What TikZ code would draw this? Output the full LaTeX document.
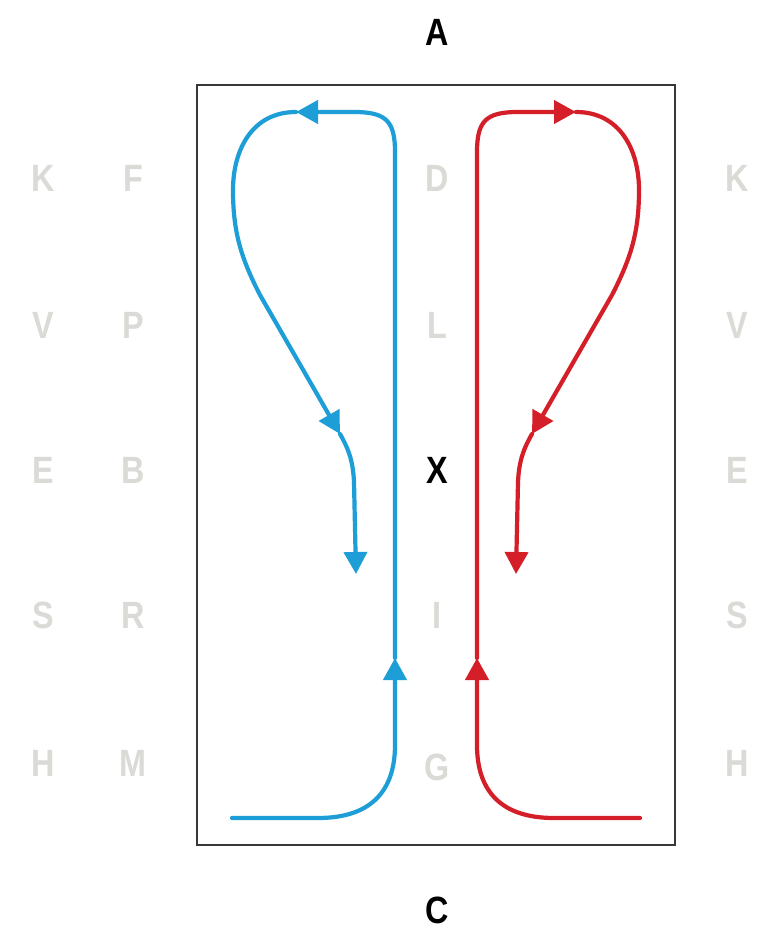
\documentclass[tikz,border=0pt]{standalone}
\usepackage{fontspec}
\setmainfont{Liberation Sans}
\newfontfamily\lblfont[FakeStretch=0.85]{Liberation Sans}
\usetikzlibrary{arrows.meta}
\definecolor{flowblue}{RGB}{30,158,214}
\definecolor{flowred}{RGB}{212,30,40}
\definecolor{ghost}{RGB}{218,218,214}
\definecolor{frame}{RGB}{55,55,55}
\begin{document}
\begin{tikzpicture}[x=1pt,y=-1pt,
  ghostlbl/.style={text=ghost,font=\lblfont\bfseries\fontsize{38}{38}\selectfont,inner sep=0pt,anchor=center},
  mainlbl/.style={text=black,font=\lblfont\bfseries\fontsize{38}{38}\selectfont,inner sep=0pt,anchor=center},
  flow/.style={line width=4.2pt,line cap=round,line join=round,-{Triangle[length=22pt,width=23pt]}}]
\useasboundingbox (0,0) rectangle (774,934);
\fill[white] (0,0) rectangle (774,934);
\draw[frame,line width=2.4pt] (197,85) rectangle (675,845);

% labels
\node[mainlbl] (A) at (437,32) {A};
\node[mainlbl] (C) at (437,910) {C};
\node[mainlbl] (X) at (437,470) {X};
\foreach \nm/\t/\x/\y in {K1/K/43/178,F/F/133/178,D/D/437/178,K2/K/737/178,
  V1/V/43/325,P/P/133/325,L/L/437/325,V2/V/737/325,
  E1/E/43/470,B/B/133/470,E2/E/737/470,
  S1/S/43/615,R/R/133/615,I/I/437/615,S2/S/737/615,
  H1/H/43/763,M/M/133/763,G/G/437/767,H2/H/737/763}
  \node[ghostlbl] (\nm) at (\x,\y) {\t};

% blue key points
\coordinate (b0) at (232,818);
\coordinate (b1) at (395,658);
\coordinate (b2) at (296,112);
\coordinate (b3) at (340,434);
\coordinate (b4) at (356,574);
% red key points
\coordinate (r0) at (640,818);
\coordinate (r1) at (477,658);
\coordinate (r2) at (576,112);
\coordinate (r3) at (532,434);
\coordinate (r4) at (516,574);

% blue route
\draw[flow,flowblue] (b0) -- (318,818) .. controls (370,818) and (395,792) .. (395,745) -- (b1);
\draw[flow,flowblue] (b1) -- (395,152) .. controls (395,121) and (386,112) .. (354,112) -- (b2);
\draw[flow,flowblue] (b2) .. controls (252,112) and (233,150) .. (233,190)
   .. controls (233,232) and (241,258) .. (260,295) -- (b3);
\draw[flow,flowblue] (b3) .. controls (348,448) and (353,460) .. (354,482) -- (b4);

% red route
\draw[flow,flowred] (r0) -- (554,818) .. controls (502,818) and (477,792) .. (477,745) -- (r1);
\draw[flow,flowred] (r1) -- (477,152) .. controls (477,121) and (486,112) .. (518,112) -- (r2);
\draw[flow,flowred] (r2) .. controls (620,112) and (639,150) .. (639,190)
   .. controls (639,232) and (631,258) .. (612,295) -- (r3);
\draw[flow,flowred] (r3) .. controls (524,448) and (519,460) .. (518,482) -- (r4);
\end{tikzpicture}
\end{document}
